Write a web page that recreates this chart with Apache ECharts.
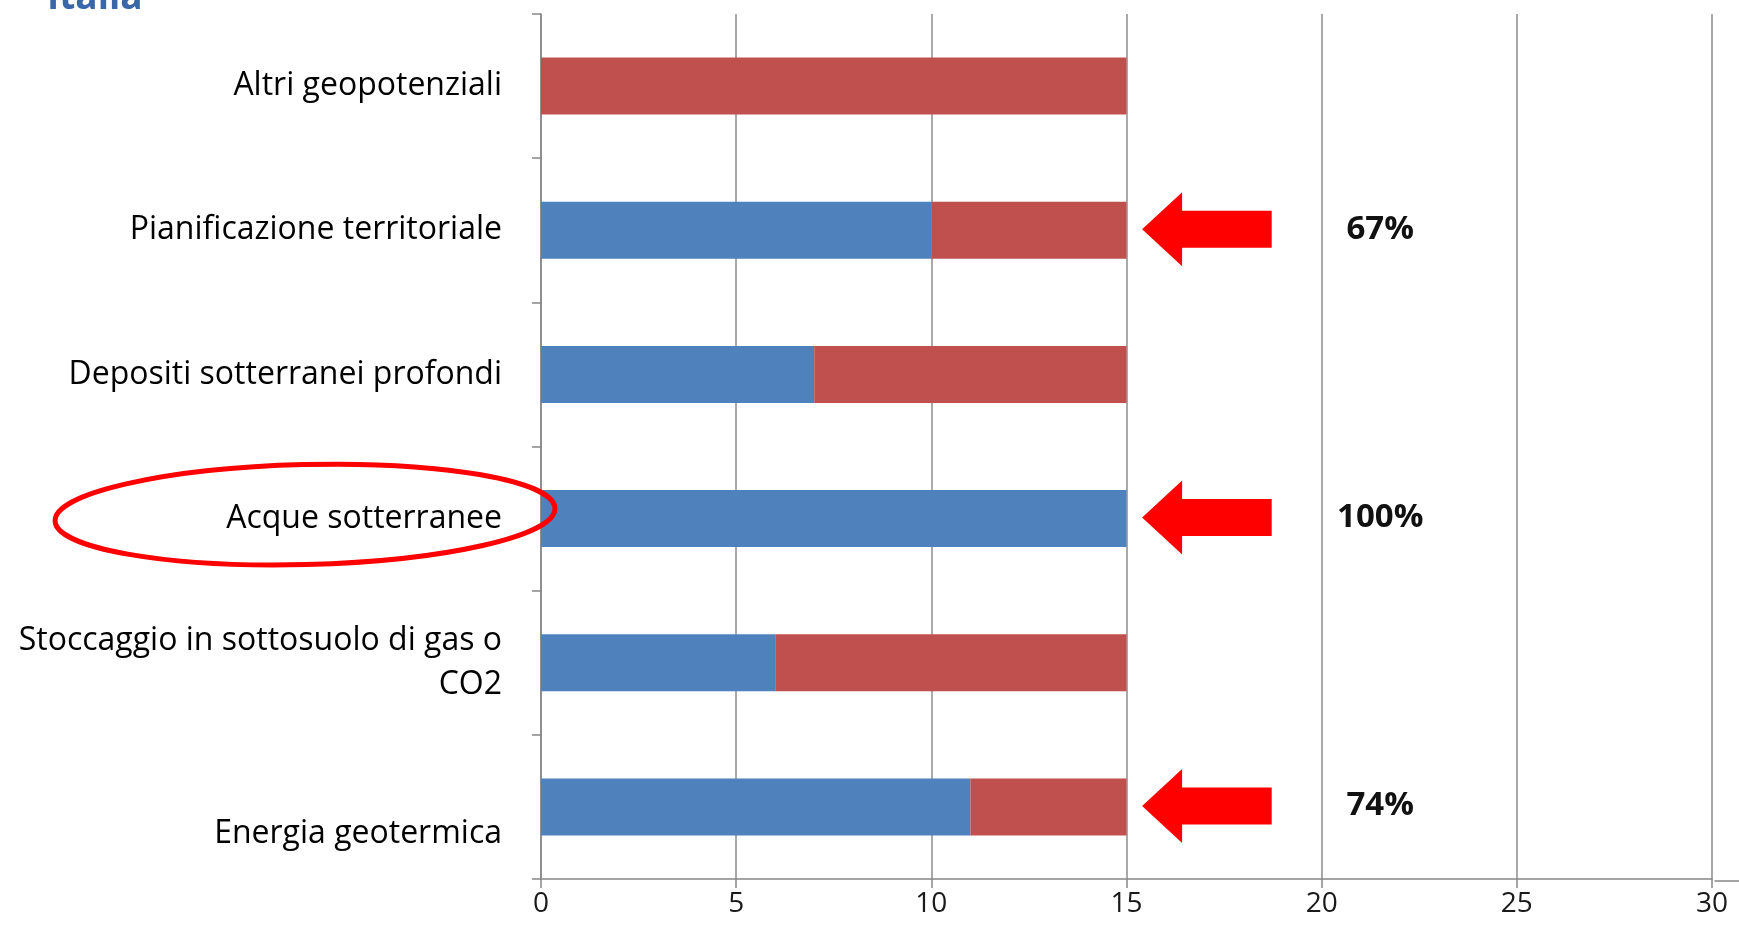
<!DOCTYPE html>
<html>
<head>
<meta charset="utf-8">
<script src="https://cdn.jsdelivr.net/npm/echarts@6/dist/echarts.min.js"></script>
<style>
html,body{margin:0;padding:0;background:#fff;}
#c{width:1739px;height:925px;}
</style>
</head>
<body>
<div id="c"></div>
<script>
// ---- data ----
var categories = ['Altri geopotenziali', 'Pianificazione territoriale', 'Depositi sotterranei profondi', 'Acque sotterranee', 'Stoccaggio in sottosuolo di gas o\nCO2', 'Energia geotermica'];
var blueValues = [0, 10, 7, 15, 6, 11];
var redValues = [15, 5, 8, 0, 9, 4];
var xTicks = [0, 5, 10, 15, 20, 25, 30];
// arrow annotations
var arrowRows = ['Pianificazione territoriale', 'Acque sotterranee', 'Energia geotermica'];
var arrowTip = [15.4, 15.4, 15.4];
var arrowTail = [18.72, 18.72, 18.72];
var pctLabels = ['67%', '100%', '74%'];
var pctPos = [21.5, 21.5, 21.5];
var highlightRow = 'Acque sotterranee';
var loweredLabel = 'Energia geotermica';

var FONT = '"Open Sans", "Liberation Sans", sans-serif';

var chart = echarts.init(document.getElementById('c'));

var arrowData = arrowRows.map(function (r, i) { return [arrowTip[i], r, arrowTail[i], pctPos[i]]; });

var option = {
  backgroundColor: '#ffffff',
  animation: false,
  grid: { left: 541, right: 27, top: 14, bottom: 46, containLabel: false },
  xAxis: {
    type: 'value', min: xTicks[0], max: xTicks[xTicks.length - 1], interval: 5,
    axisLine: { show: true, lineStyle: { color: '#868686', width: 1.5 } },
    axisTick: { show: true, length: 9, lineStyle: { color: '#868686', width: 1.5 } },
    splitLine: { show: true, lineStyle: { color: '#8c8c8c', width: 1.5 } },
    axisLabel: { fontFamily: FONT, fontSize: 28, color: '#1a1a1a', margin: 11 }
  },
  yAxis: {
    type: 'category', inverse: true, data: categories,
    axisLine: { show: true, lineStyle: { color: '#868686', width: 1.5 } },
    axisTick: { show: true, length: 9, lineStyle: { color: '#868686', width: 1.5 } },
    splitLine: { show: false },
    axisLabel: {
      fontFamily: FONT, fontSize: 32, color: '#000', margin: 39, lineHeight: 44, align: 'right',
      formatter: function (v) {
        return v === loweredLabel ? '{low|' + v + '}' : v;
      },
      rich: {
        low: { fontFamily: FONT, fontSize: 32, color: '#000', padding: [54, 0, 0, 0], lineHeight: 44 }
      }
    }
  },
  series: [
    {
      type: 'bar', stack: 'tot', data: blueValues, barWidth: 57,
      itemStyle: { color: '#4F81BD' }
    },
    {
      type: 'bar', stack: 'tot', data: redValues, barWidth: 57,
      itemStyle: { color: '#C0504D' }
    },
    {
      type: 'custom', clip: false, z: 5,
      data: arrowData,
      encode: { x: 0, y: 1 },
      renderItem: function (params, api) {
        var i = params.dataIndex;
        var tip = api.coord([arrowTip[i], arrowRows[i]]);
        var tail = api.coord([arrowTail[i], arrowRows[i]]);
        var txt = api.coord([pctPos[i], arrowRows[i]]);
        var y = tip[1] - 1;
        var xh = tip[0] + 40;
        var hh = 37, sh = 18.5;
        return {
          type: 'group',
          children: [
            {
              type: 'polygon',
              shape: { points: [[tip[0], y], [xh, y - hh], [xh, y - sh], [tail[0], y - sh], [tail[0], y + sh], [xh, y + sh], [xh, y + hh]] },
              style: { fill: '#FF0000' }
            },
            {
              type: 'text',
              style: {
                text: pctLabels[i], x: txt[0], y: y,
                fontFamily: FONT, fontSize: 33, fontWeight: 'bold',
                fill: '#111', verticalAlign: 'middle', align: 'center'
              }
            }
          ]
        };
      }
    },
    {
      type: 'custom', clip: false, z: 6,
      data: [[0, highlightRow]],
      encode: { x: 0, y: 1 },
      renderItem: function (params, api) {
        var p = api.coord([0, highlightRow]);
        var cx = p[0] - 236, cy = p[1] - 4, rx = 250, ry = 50;
        var d = 'M' + (cx - rx) + ' ' + cy + ' A' + rx + ' ' + ry + ' 0 1 0 ' + (cx + rx) + ' ' + cy +
          ' A' + rx + ' ' + ry + ' 0 1 0 ' + (cx - rx) + ' ' + cy + ' Z';
        return {
          type: 'path',
          shape: { pathData: d },
          rotation: 0.025, originX: cx, originY: cy,
          style: { fill: null, stroke: '#FF0000', lineWidth: 5 }
        };
      }
    }
  ],
  graphic: [
    {
      type: 'text', left: 47, top: -20,
      style: { text: 'Italia', fontFamily: FONT, fontSize: 37, fontWeight: 'bold', fill: '#3A67A7' }
    },
    {
      type: 'line', left: 1712, top: 878.5,
      shape: { x1: 0, y1: 0, x2: 27, y2: 0 },
      style: { stroke: '#868686', lineWidth: 1.5 }
    }
  ]
};
chart.setOption(option);
</script>
</body>
</html>
